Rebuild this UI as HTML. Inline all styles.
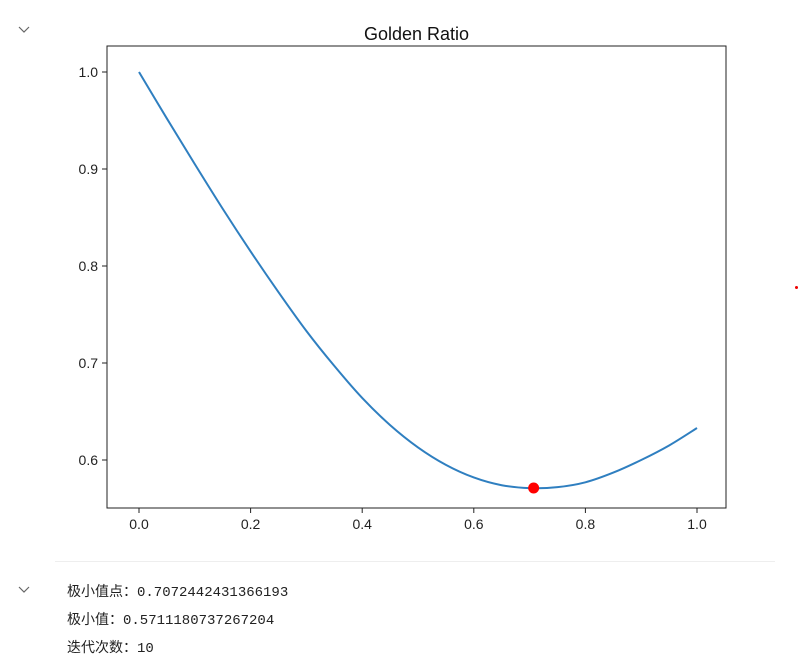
<!DOCTYPE html>
<html><head><meta charset="utf-8">
<style>
body{margin:0;width:800px;height:667px;background:#fff;position:relative;overflow:hidden;font-family:"Liberation Sans","Noto Sans CJK SC",sans-serif;}
.out{position:absolute;left:67px;font-family:"Liberation Mono","Noto Sans CJK SC",monospace;font-size:14px;color:#222;}
</style></head><body>
<svg style="position:absolute;left:18px;top:26px" width="12" height="8"><path d="M1 1 L6 6 L11 1" fill="none" stroke="#666" stroke-width="1.2"/></svg>
<svg style="position:absolute;left:18px;top:586px" width="12" height="8"><path d="M1 1 L6 6 L11 1" fill="none" stroke="#666" stroke-width="1.2"/></svg>
<div style="position:absolute;left:55px;top:561px;width:720px;height:1px;background:#eee"></div>
<div style="position:absolute;left:795px;top:286px;width:3px;height:3px;border-radius:50%;background:#e00"></div>
<svg id="chart" style="position:absolute;left:0;top:0" width="800" height="560"></svg>
<div class="out" style="top:581px">极小值点：0.7072442431366193</div>
<div class="out" style="top:609px">极小值：0.5711180737267204</div>
<div class="out" style="top:637px">迭代次数：10</div>
<script>
const xs=[0,0.05,0.1,0.15,0.2,0.25,0.3,0.35,0.4,0.45,0.5,0.55,0.6,0.65,0.7,0.75,0.8,0.85,0.9,0.95,1.0];
const ys=[1.0,0.952,0.905,0.859,0.815,0.773,0.733,0.697,0.664,0.636,0.613,0.595,0.582,0.574,0.571,0.572,0.577,0.587,0.600,0.615,0.633];
const minX=[0.7072442431366193];
const minY=[0.5711180737267204];
const xTicks=[0,0.2,0.4,0.6,0.8,1.0];
const yTicks=[0.6,0.7,0.8,0.9,1.0];
const svg=document.getElementById('chart');
const NS='http://www.w3.org/2000/svg';
const L=107,R=726,T=46,B=508;
const sx=v=>139+v*558;
const sy=v=>72+(1.0-v)*970;
function mk(t,a){const e=document.createElementNS(NS,t);for(const k in a)e.setAttribute(k,a[k]);svg.appendChild(e);return e;}
let f=mk('rect',{x:L,y:T,width:R-L,height:B-T,fill:'none',stroke:'#222','stroke-width':1});


let t=mk('text',{x:(L+R)/2,y:40,'text-anchor':'middle','font-size':18,fill:'#111'});t.textContent='Golden Ratio';


xTicks.forEach(v=>{const x=sx(v);mk('line',{x1:x,x2:x,y1:B,y2:B+5,stroke:'#222'});
const l=mk('text',{x:x,y:B+21,'text-anchor':'middle','font-size':14,fill:'#222'});l.textContent=v.toFixed(1);

});
yTicks.forEach(v=>{const y=sy(v);mk('line',{x1:L-5,x2:L,y1:y,y2:y,stroke:'#222'});
const l=mk('text',{x:L-9,y:y+5,'text-anchor':'end','font-size':14,fill:'#222'});l.textContent=v.toFixed(1);

});
const P=xs.map((x,i)=>[sx(x),sy(ys[i])]);
let d='M'+P[0][0]+' '+P[0][1];
for(let i=0;i<P.length-1;i++){
  const p0=P[i-1]||P[i],p1=P[i],p2=P[i+1],p3=P[i+2]||P[i+1];
  const c1=[p1[0]+(p2[0]-p0[0])/6,p1[1]+(p2[1]-p0[1])/6];
  const c2=[p2[0]-(p3[0]-p1[0])/6,p2[1]-(p3[1]-p1[1])/6];
  d+=' C'+c1[0]+' '+c1[1]+' '+c2[0]+' '+c2[1]+' '+p2[0]+' '+p2[1];
}
const p=mk('path',{d:d,fill:'none',stroke:'#2f7fc0','stroke-width':2});


const c=mk('circle',{cx:sx(minX[0]),cy:sy(minY[0]),r:5.5,fill:'#f00'});


</script>
</body></html>
